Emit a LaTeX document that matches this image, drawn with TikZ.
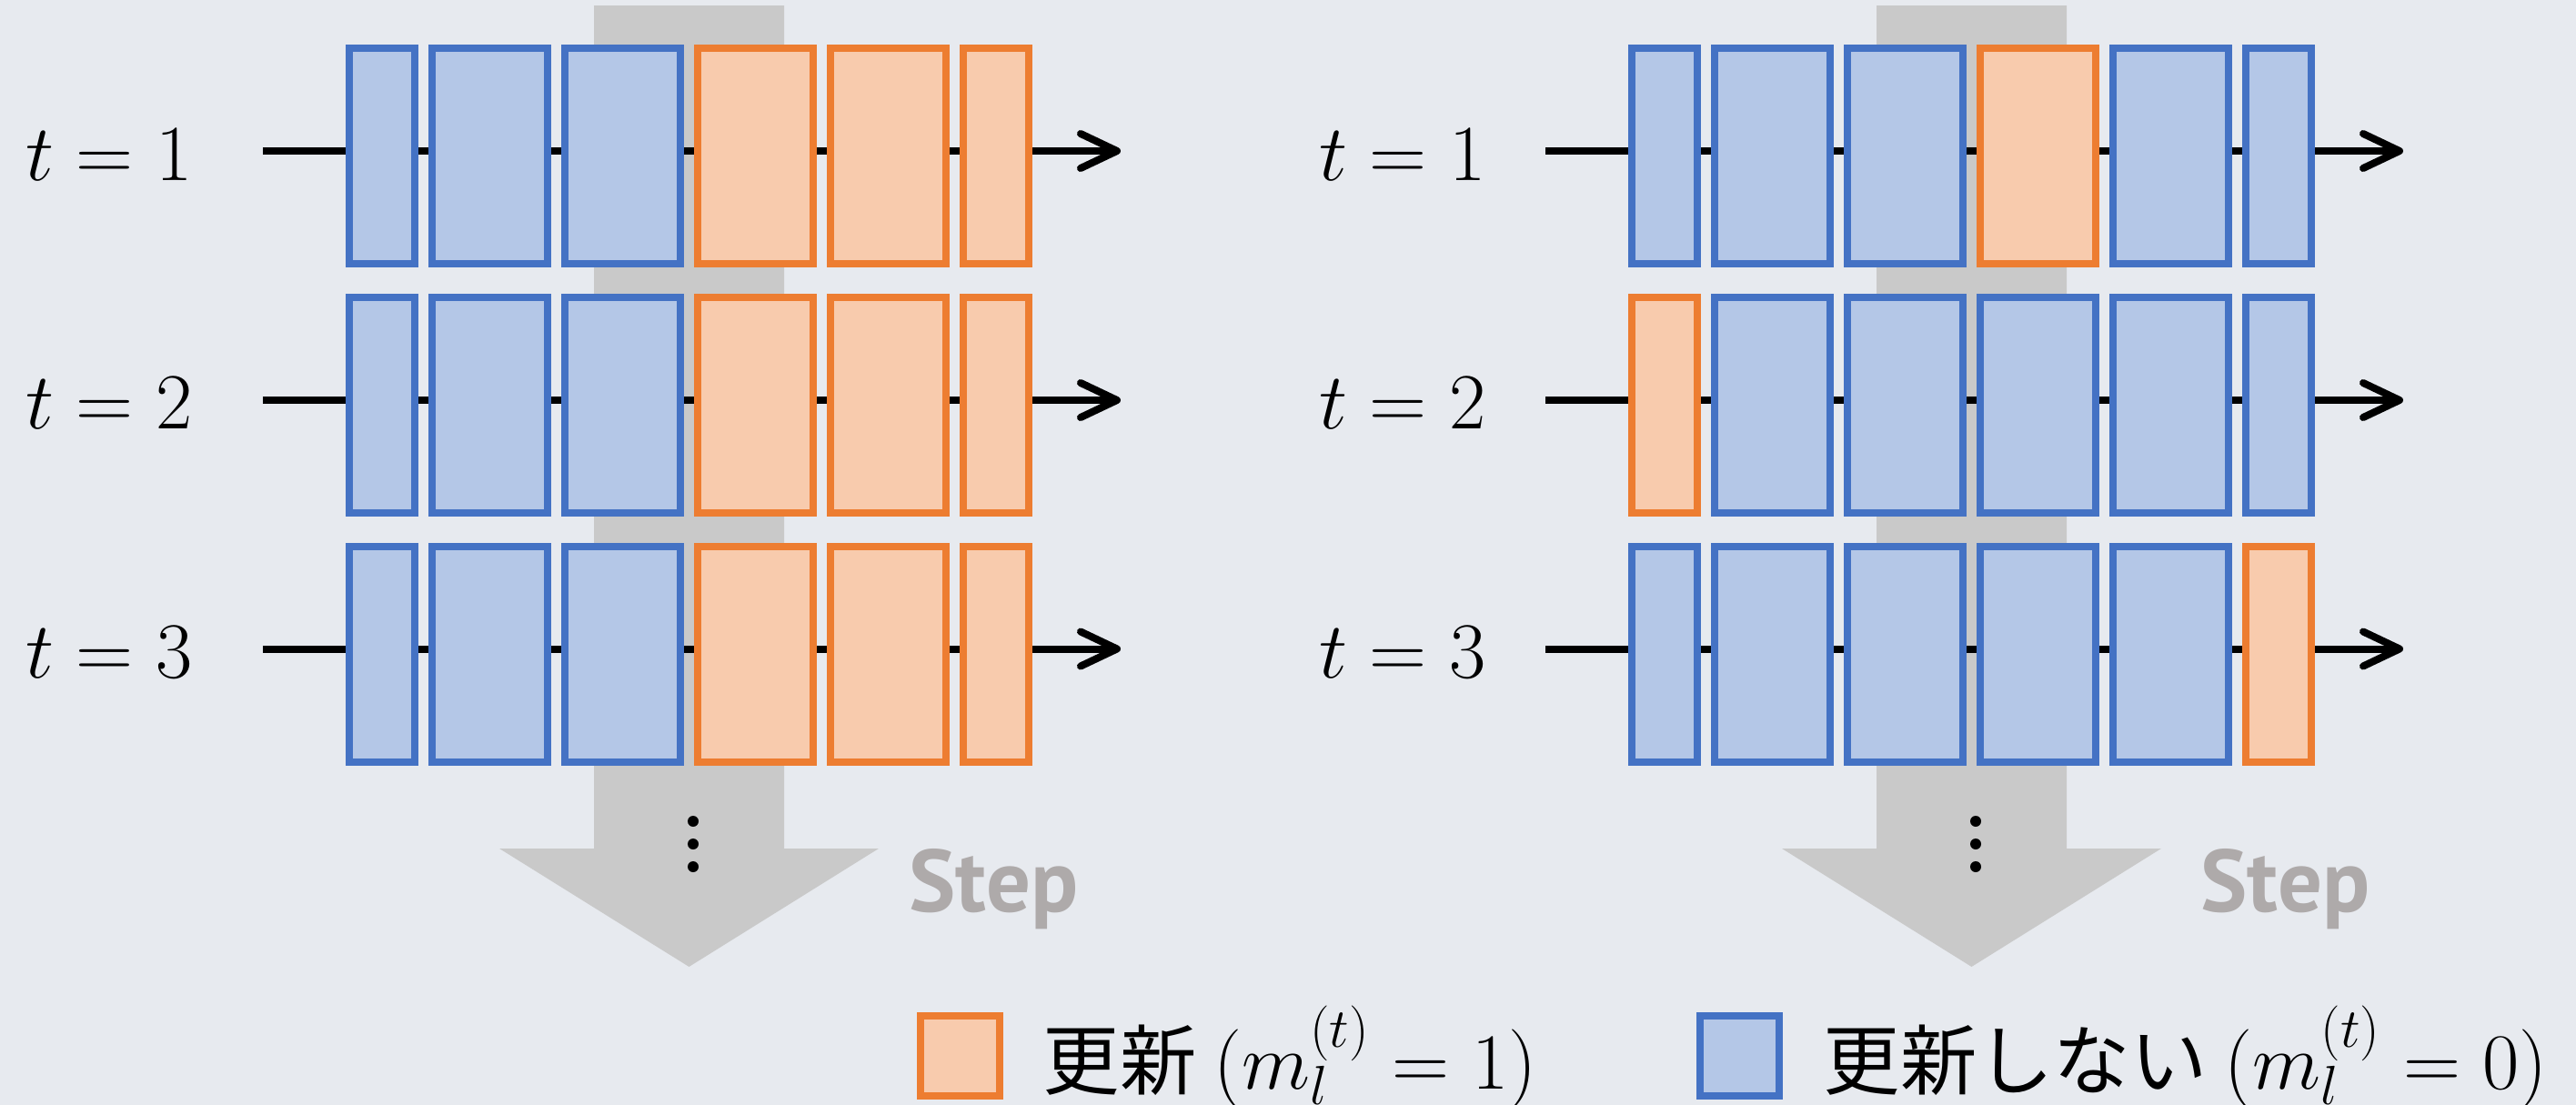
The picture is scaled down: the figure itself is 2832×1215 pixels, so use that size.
\documentclass[tikz,border=0pt]{standalone}
\usepackage{fontspec}
\newfontfamily\cjk{Noto Sans CJK JP}
\newfontfamily\stepfont{PT Sans}
\usetikzlibrary{arrows.meta}
\definecolor{bg}{HTML}{E7EAEF}
\definecolor{bfill}{HTML}{B4C7E7}
\definecolor{bdraw}{HTML}{4472C4}
\definecolor{ofill}{HTML}{F8CBAD}
\definecolor{odraw}{HTML}{ED7D31}
\definecolor{garrow}{HTML}{C9C9C9}
\definecolor{steptxt}{HTML}{AEAAAA}
\tikzset{
  blk/.style={draw, line width=0.08cm, inner sep=0pt, minimum height=2.37cm},
  b/.style={blk, fill=bfill, draw=bdraw},
  o/.style={blk, fill=ofill, draw=odraw},
  narrow/.style={minimum width=0.72cm},
  wide/.style={minimum width=1.27cm},
  conn/.style={line width=0.08cm, -{Straight Barb[length=0.4cm, width=0.38cm, round]}},
  tlbl/.style={anchor=base west, inner sep=0pt, font=\fontsize{25}{30}\selectfont},
  steplbl/.style={anchor=base west, inner sep=0pt, text=steptxt, font=\stepfont\bfseries\fontsize{27.5}{33}\selectfont},
  legbox/.style={line width=0.08cm, inner sep=0pt, minimum width=0.87cm, minimum height=0.87cm},
  legtxt/.style={anchor=base west, inner sep=0pt, font=\cjk\fontsize{24}{29}\selectfont},
  gband/.style={fill=garrow},
  dot/.style={fill=black}
}
\newcommand\blockrow[9]{%
  \node[#4, narrow] (#1a) at (420+#2, #3) {};
  \node[#5, wide]   (#1b) at (538.5+#2, #3) {};
  \node[#6, wide]   (#1c) at (684.5+#2, #3) {};
  \node[#7, wide]   (#1d) at (830.5+#2, #3) {};
  \node[#8, wide]   (#1e) at (976.5+#2, #3) {};
  \node[#9, narrow] (#1f) at (1095+#2, #3) {};
}
\begin{document}
\begin{tikzpicture}[x=0.01cm, y=-0.01cm]
\useasboundingbox (0,0) rectangle (2832,1215);
\fill[bg] (0,0) rectangle (2832,1215);

% big gray step arrows
\foreach \dx in {0,1410}{
  \fill[gband] (653+\dx,6) -- (862+\dx,6) -- (862+\dx,933) -- (966+\dx,933)
     -- (757.5+\dx,1063) -- (549+\dx,933) -- (653+\dx,933) -- cycle;
}

% time lines
\foreach \r/\ly in {1/166, 2/440, 3/713.5}{
  \coordinate (Ls\r) at (289,\ly);
  \coordinate (Le\r) at (1232,\ly);
  \coordinate (Rs\r) at (1699,\ly);
  \coordinate (Re\r) at (2642,\ly);
  \draw[conn] (Ls\r) -- (Le\r);
  \draw[conn] (Rs\r) -- (Re\r);
}

% left panel blocks
\blockrow{LA}{0}{171.5}{b}{b}{b}{o}{o}{o}
\blockrow{LB}{0}{445.5}{b}{b}{b}{o}{o}{o}
\blockrow{LC}{0}{719.5}{b}{b}{b}{o}{o}{o}
% right panel blocks
\blockrow{RA}{1410}{171.5}{b}{b}{b}{o}{b}{b}
\blockrow{RB}{1410}{445.5}{o}{b}{b}{b}{b}{b}
\blockrow{RC}{1410}{719.5}{b}{b}{b}{b}{b}{o}

% labels
\node[tlbl] (lt1) at (28,198) {$t=1$};
\node[tlbl] (lt2) at (28,471.6) {$t=2$};
\node[tlbl] (lt3) at (28,745.2) {$t=3$};
\node[tlbl] (rt1) at (1450,198) {$t=1$};
\node[tlbl] (rt2) at (1450,471.6) {$t=2$};
\node[tlbl] (rt3) at (1450,745.2) {$t=3$};

% vertical dots
\foreach \dx in {0,1410}{
  \foreach \dy in {903,928,953}{
    \fill[dot] (762+\dx,\dy) circle[radius=0.06cm];
  }
}

% Step labels
\node[steplbl] (stepL) at (999,1002) {Step};
\node[steplbl] (stepR) at (2419,1002) {Step};

% legend
\node[legbox, fill=ofill, draw=odraw] (legO) at (1055.5,1161) {};
\node[legtxt] (legOt) at (1146,1197) {更新 $(m_l^{(t)} = 1)$};
\node[legbox, fill=bfill, draw=bdraw] (legB) at (1912.5,1161) {};
\node[legtxt] (legBt) at (2004,1197) {更新しない $(m_l^{(t)} = 0)$};
\end{tikzpicture}
\end{document}
